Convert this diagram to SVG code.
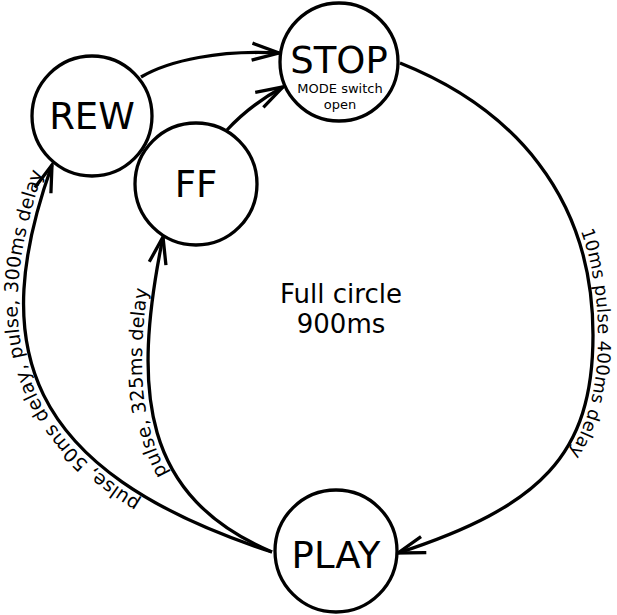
<svg xmlns="http://www.w3.org/2000/svg" width="617" height="615" viewBox="0 0 617 615">
<style>
.node circle{fill:#fff;stroke:#000;stroke-width:3.3}
.big{font-family:"DejaVu Sans",Verdana,sans-serif;font-size:37px;text-anchor:middle;fill:#000}
.small{font-family:"DejaVu Sans",Verdana,sans-serif;font-size:13px;text-anchor:middle;fill:#000}
.mid{font-family:"DejaVu Sans",Verdana,sans-serif;font-size:26px;text-anchor:middle;fill:#000}
.lbl{font-family:"DejaVu Sans",Verdana,sans-serif;font-size:19px;fill:#000}
.edge{fill:none;stroke:#000;stroke-width:3.3;marker-end:url(#arr)}
</style>
<defs>
<marker id="arr" markerUnits="userSpaceOnUse" markerWidth="40" markerHeight="30" viewBox="-32 -15 40 30" refX="0" refY="0" orient="auto" overflow="visible">
<path d="M -27 -8.5 L 0 0 L -27 8.5" fill="none" stroke="#000" stroke-width="3.3"/>
</marker>
</defs>
<rect width="617" height="615" fill="#fff"/>
<g id="connectors">
<path id="e-rew-stop" class="edge" d="M 141 77 C 170 60 220 50 279 53"/>
<path id="e-ff-stop" class="edge" d="M 227 130 Q 250 105 283 87"/>
<path id="e-stop-play" class="edge" d="M 400 63 C 511.6 107.4 593 195 593 335 C 593 455 540.5 506.5 398 553"/>
<path id="e-play-rew" class="edge" d="M 272 552 C 20 470 -12 344 52 165"/>
<path id="e-play-ff" class="edge" d="M 272 552 C 143 497 131 394 163 237"/>
<text class="lbl" dy="-5" style="font-size:18px"><textPath href="#e-stop-play" startOffset="365" text-anchor="middle">10ms pulse 400ms delay</textPath></text>
<text class="lbl" dy="-6"><textPath href="#e-play-rew" startOffset="140">pulse, 50ms delay, pulse, 300ms delay</textPath></text>
<text class="lbl" dy="-6"><textPath href="#e-play-ff" startOffset="130">pulse, 325ms delay</textPath></text>
</g>
<g id="node-stop" class="node">
<circle cx="339" cy="62" r="59"/>
<text class="big" x="339" y="73">STOP</text>
<text class="small" x="340" y="93">MODE switch</text>
<text class="small" x="340" y="109">open</text>
</g>
<g id="node-rew" class="node">
<circle cx="92" cy="116" r="60"/>
<text class="big" x="92" y="129">REW</text>
</g>
<g id="node-ff" class="node">
<circle cx="196" cy="184" r="61"/>
<text class="big" x="196" y="197">FF</text>
</g>
<g id="node-play" class="node">
<circle cx="336" cy="551" r="61"/>
<text class="big" x="336" y="568">PLAY</text>
</g>
<g id="center-label">
<text class="mid" x="341" y="303">Full circle</text>
<text class="mid" x="341" y="333">900ms</text>
</g>
</svg>
